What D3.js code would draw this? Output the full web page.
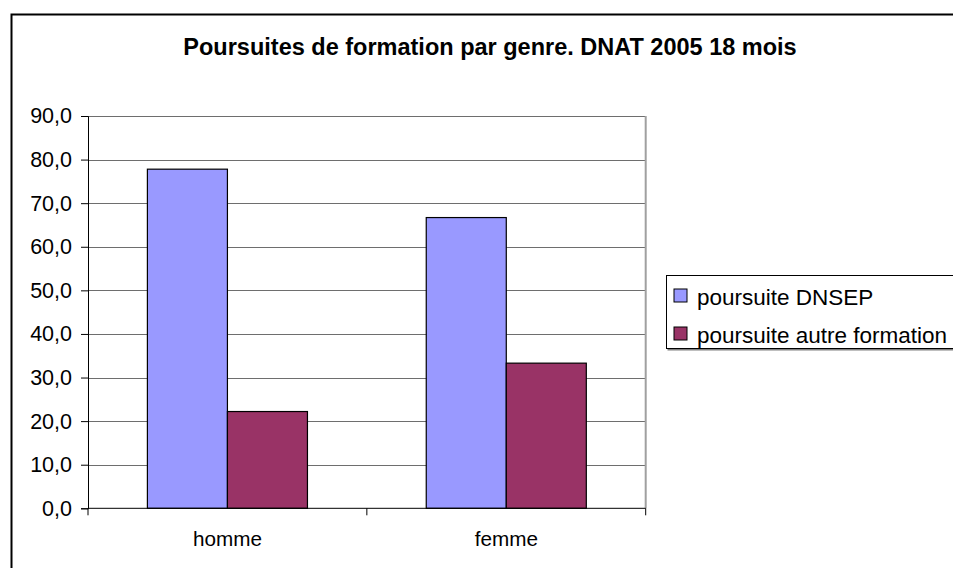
<!DOCTYPE html>
<html>
<head>
<meta charset="utf-8">
<script src="https://cdn.jsdelivr.net/npm/d3@7/dist/d3.min.js"></script>
<style>
  body { margin: 0; background: #fff; }
  svg { display: block; font-family: Arial, "Liberation Sans", sans-serif; }
</style>
</head>
<body>
<svg id="chart" width="953" height="568"></svg>
<script>
// chart data
const categories = ['homme', 'femme'];
const seriesNames = ['poursuite DNSEP', 'poursuite autre formation'];
const dnsepValues = [77.8, 66.7];
const autreValues = [22.2, 33.3];
const yTicks = [0, 10, 20, 30, 40, 50, 60, 70, 80, 90];
const seriesColors = ['#9999ff', '#993366'];

const title = 'Poursuites de formation par genre. DNAT 2005 18 mois';

let svg = d3.select('#chart');
let plot = {left: 88, top: 116, right: 645.7, bottom: 508.3};

// outer chart border (cut off at right and bottom, like the original)
svg.append('rect')
  .attr('x', 11.5).attr('y', 14.5)
  .attr('width', 1000).attr('height', 600)
  .attr('fill', '#fff')
  .attr('stroke', '#000')
  .attr('stroke-width', 2);

svg.append('text')
  .attr('x', 490).attr('y', 54.5)
  .attr('text-anchor', 'middle')
  .style('font-weight', 'bold')
  .style('font-size', '23.5px')
  .text(title);

let x = d3.scaleBand()
  .domain(categories)
  .range([plot.left, plot.right])
  .paddingInner(0.426)
  .paddingOuter(0.213);

let x1 = d3.scaleBand()
  .domain(seriesNames)
  .range([0, x.bandwidth()]);

let y = d3.scaleLinear()
  .domain([0, 90])
  .range([plot.bottom, plot.top]);

let fmt = v => d3.format('.1f')(v).replace('.', ',');

// gridlines
svg.append('g')
  .selectAll('line')
  .data(yTicks.filter(t => t > 0))
  .join('line')
  .attr('x1', plot.left).attr('x2', plot.right)
  .attr('y1', d => Math.round(y(d)) + 0.5).attr('y2', d => Math.round(y(d)) + 0.5)
  .attr('stroke', '#6e6e6e')
  .attr('stroke-width', 1);

// plot area border (right side, gray)
svg.append('line')
  .attr('x1', plot.right).attr('x2', plot.right)
  .attr('y1', plot.top).attr('y2', plot.bottom)
  .attr('stroke', '#a0a0a0')
  .attr('stroke-width', 2);

// bars
let rows = categories.map((c, i) => ({cat: c, values: [dnsepValues[i], autreValues[i]]}));

svg.append('g')
  .selectAll('g')
  .data(rows)
  .join('g')
  .attr('transform', d => 'translate(' + x(d.cat) + ',0)')
  .selectAll('rect')
  .data(d => d.values.map((v, i) => ({name: seriesNames[i], value: v, color: seriesColors[i]})))
  .join('rect')
  .attr('x', d => x1(d.name))
  .attr('y', d => y(d.value))
  .attr('width', x1.bandwidth())
  .attr('height', d => y(0) - y(d.value))
  .attr('fill', d => d.color)
  .attr('stroke', '#000')
  .attr('stroke-width', 1.2);

// y axis
let yAxis = svg.append('g')
  .attr('transform', 'translate(' + plot.left + ',0)')
  .call(d3.axisLeft(y).tickValues(yTicks).tickSize(7).tickPadding(9).tickFormat(fmt));
yAxis.select('.domain').attr('stroke', '#000');
yAxis.selectAll('.tick line').attr('stroke', '#000');
yAxis.selectAll('text')
  .attr('fill', '#000')
  .style('font-size', '21.5px')
  .style('font-family', 'Arial, "Liberation Sans", sans-serif');

// x axis
let xAxis = svg.append('g')
  .attr('transform', 'translate(0,' + plot.bottom + ')')
  .call(d3.axisBottom(x).tickSize(0).tickPadding(23));
xAxis.select('.domain').remove();
xAxis.selectAll('text')
  .attr('fill', '#000')
  .style('font-size', '20.7px')
  .style('font-family', 'Arial, "Liberation Sans", sans-serif');

svg.append('line')
  .attr('x1', plot.left).attr('x2', plot.right)
  .attr('y1', plot.bottom).attr('y2', plot.bottom)
  .attr('stroke', '#000');

let bounds = d3.range(categories.length + 1).map(i => plot.left + i * x.step());
svg.append('g')
  .selectAll('line')
  .data(bounds)
  .join('line')
  .attr('x1', d => d).attr('x2', d => d)
  .attr('y1', plot.bottom).attr('y2', plot.bottom + 7)
  .attr('stroke', '#000');

// legend
let legend = svg.append('g').attr('transform', 'translate(666,275)');
legend.append('rect')
  .attr('x', 1.5).attr('y', 1.5)
  .attr('width', 400).attr('height', 74)
  .attr('fill', '#808080');
legend.append('rect')
  .attr('x', 0.5).attr('y', 0.5)
  .attr('width', 400).attr('height', 73)
  .attr('fill', '#fff')
  .attr('stroke', '#000');

let items = legend.selectAll('g.item')
  .data(seriesNames)
  .join('g')
  .attr('class', 'item')
  .attr('transform', (d, i) => 'translate(8,' + (14 + i * 38) + ')');
items.append('rect')
  .attr('width', 13).attr('height', 13)
  .attr('fill', (d, i) => seriesColors[i])
  .attr('stroke', '#000');
items.append('text')
  .attr('x', 23).attr('y', 16)
  .style('font-size', '22.5px')
  .text(d => d);
</script>
</body>
</html>
